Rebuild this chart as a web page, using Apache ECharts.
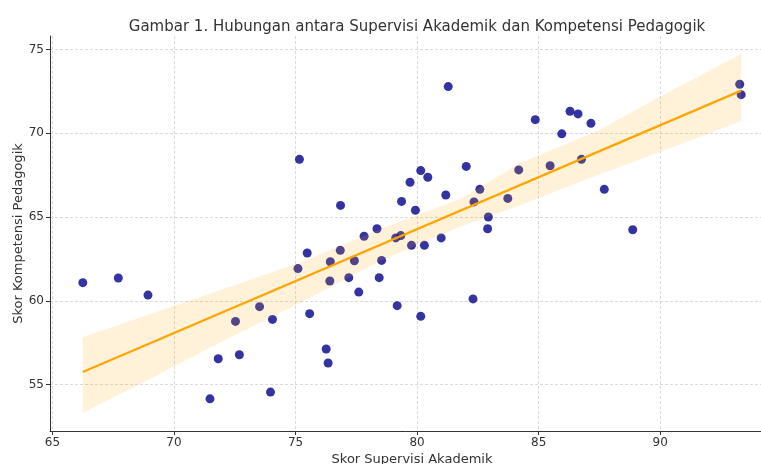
<!DOCTYPE html>
<html>
<head>
<meta charset="utf-8">
<script src="https://cdn.jsdelivr.net/npm/echarts@6/dist/echarts.min.js"></script>
<style>html,body{margin:0;padding:0;background:#fff}#c{width:761px;height:464px}</style>
</head>
<body>
<div id="c"></div>
<script>
// Scatter data: Skor Supervisi Akademik (x) vs Skor Kompetensi Pedagogik (y)
const supervisi = [66.25,67.71,68.93,71.48,71.82,72.53,72.69,73.52,73.97,74.05,
  75.10,75.16,75.48,75.58,76.26,76.34,76.41,76.43,76.84,76.85,
  77.19,77.42,77.60,77.82,78.35,78.44,78.54,79.12,79.18,79.33,
  79.36,79.71,79.77,79.93,80.15,80.15,80.30,80.44,80.99,81.18,
  81.28,82.02,82.30,82.34,82.58,82.90,82.93,83.73,84.18,84.86,
  85.47,85.95,86.29,86.62,86.76,87.15,87.70,88.87,93.27,93.33];
const kompetensi = [61.09,61.37,60.35,54.16,56.55,58.78,56.79,59.66,54.56,58.90,
  61.93,68.45,62.86,59.24,57.13,56.30,61.19,62.34,63.02,65.70,
  61.39,62.40,60.53,63.86,64.31,61.39,62.42,63.76,59.72,63.90,
  65.94,67.08,63.32,65.41,67.78,59.08,63.32,67.38,63.76,66.32,
  72.79,68.03,60.12,65.91,66.66,64.31,65.01,66.12,67.82,70.82,
  68.07,69.97,71.32,71.16,68.45,70.60,66.66,64.25,72.93,72.31];
// Regression line end points
const lineX = [66.25, 93.33];
const lineY = [55.76, 72.55];
// Confidence band
const bandX = [66.25, 69, 72, 75.2, 78.5, 81.8, 84.2, 87.5, 90, 93.33];
const bandUpper = [57.83, 59.2, 60.7, 62.3, 64.3, 66.1, 68.2, 70.2, 72.2, 74.74];
const bandLower = [53.31, 55.35, 57.6, 59.9, 62.4, 64.45, 65.7, 67.55, 68.9, 70.72];
// Ticks
const xTicks = [65, 70, 75, 80, 85, 90];
const yTicks = [55, 60, 65, 70, 75];

const FONT = 'DejaVu Sans';
const chart = echarts.init(document.getElementById('c'), null, {renderer: 'canvas'});

const scatterData = supervisi.map((x, i) => [x, kompetensi[i]]);
const lineData = lineX.map((x, i) => [x, lineY[i]]);
const bandData = bandX.map((x, i) => [x, bandLower[i], bandUpper[i]]);

function axisCommon(ticks) {
  return {
    axisLine: {show: true, lineStyle: {color: '#333', width: 1}},
    axisTick: {show: true, customValues: ticks, length: 4, lineStyle: {color: '#333'}},
    axisLabel: {customValues: ticks, color: '#333', fontFamily: FONT, fontSize: 12, margin: 6},
    splitLine: {show: true, lineStyle: {color: '#d0d0d0', type: [3, 2], width: 0.8}},
    nameTextStyle: {color: '#333', fontFamily: FONT, fontSize: 13},
    nameMoveOverlap: false
  };
}

chart.setOption({
  animation: false,
  backgroundColor: '#fff',
  title: {
    text: 'Gambar 1. Hubungan antara Supervisi Akademik dan Kompetensi Pedagogik',
    left: 412, top: 15, textAlign: 'center',
    textStyle: {fontFamily: FONT, fontSize: 15, fontWeight: 'normal', color: '#333'}
  },
  grid: {left: 50, right: -13, top: 36, bottom: 33, containLabel: false, outerBoundsMode: 'none'},
  xAxis: Object.assign({
    type: 'value', min: 64.9, max: 94.68,
    name: 'Skor Supervisi Akademik', nameLocation: 'middle', nameGap: 22
  }, axisCommon(xTicks)),
  yAxis: Object.assign({
    type: 'value', min: 52.24, max: 75.81,
    name: 'Skor Kompetensi Pedagogik', nameLocation: 'middle', nameGap: 25
  }, axisCommon(yTicks)),
  series: [
    {
      type: 'scatter', data: scatterData, symbolSize: 9, z: 2,
      itemStyle: {color: '#00008b', opacity: 0.8}
    },
    {
      type: 'custom', z: 3, silent: true,
      data: [0],
      renderItem: function (params, api) {
        const pts = [];
        bandData.forEach(d => pts.push(api.coord([d[0], d[2]])));
        for (let i = bandData.length - 1; i >= 0; i--) pts.push(api.coord([bandData[i][0], bandData[i][1]]));
        return {type: 'polygon', shape: {points: pts}, style: {fill: 'rgba(255,165,0,0.15)'}};
      }
    },
    {
      type: 'line', data: lineData, z: 4, symbol: 'none',
      lineStyle: {color: '#ffa500', width: 2.2}
    }
  ]
});
</script>
</body>
</html>
